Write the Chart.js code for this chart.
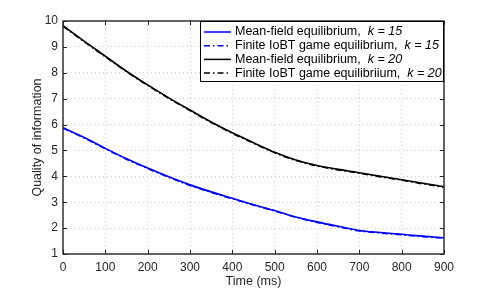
<!DOCTYPE html>
<html lang="en">
<head>
    <meta charset="UTF-8">
    <title>Quality of information vs time</title>
    <script src="https://cdnjs.cloudflare.com/ajax/libs/Chart.js/4.4.1/chart.umd.min.js"></script>
    <style>
        html, body { margin: 0; padding: 0; background: #ffffff; }
        #wrap { width: 491px; height: 289px; }
    </style>
</head>
<body>
<div id="wrap"><canvas id="qoiChart" width="491" height="289"></canvas></div>
<script>
    // data (time in ms)
    var timeMs = [0, 50, 100, 150, 200, 250, 300, 350, 400, 450, 500, 550, 600, 650, 700, 750, 800, 850, 900];
    var meanField15 = [5.88, 5.50, 5.08, 4.68, 4.32, 3.98, 3.67, 3.40, 3.15, 2.90, 2.68, 2.43, 2.24, 2.07, 1.91, 1.83, 1.76, 1.69, 1.63];
    var finiteGame15 = [5.86, 5.48, 5.06, 4.66, 4.30, 3.96, 3.65, 3.38, 3.13, 2.89, 2.66, 2.42, 2.22, 2.05, 1.89, 1.81, 1.74, 1.67, 1.61];
    var meanField20 = [9.82, 9.22, 8.64, 8.06, 7.53, 7.03, 6.56, 6.10, 5.68, 5.30, 4.93, 4.63, 4.42, 4.27, 4.14, 4.00, 3.87, 3.73, 3.60];
    var finiteGame20 = [9.80, 9.20, 8.62, 8.04, 7.51, 7.01, 6.54, 6.08, 5.66, 5.28, 4.91, 4.61, 4.40, 4.25, 4.12, 3.98, 3.85, 3.71, 3.58];
    var xTicks = [0, 100, 200, 300, 400, 500, 600, 700, 800, 900];
    var yTicks = [1, 2, 3, 4, 5, 6, 7, 8, 9, 10];
    var legendText = [
        ['Mean-field equilibrium,  ', 'k = 15'],
        ['Finite IoBT game equilibrium,  ', 'k = 15'],
        ['Mean-field equilibrium,  ', 'k = 20'],
        ['Finite IoBT game equilibriium,  ', 'k = 20']
    ];

    var FONT = '"Liberation Sans", Arial, sans-serif';
    var AXIS = '#262626';

    function pts(ys) {
        return timeMs.map(function(t, i) { return { x: t, y: ys[i] }; });
    }

    // MATLAB style box, inner ticks and legend
    var boxPlugin = {
        id: 'boxPlugin',
        afterDraw: function(chart) {
            var ctx = chart.ctx;
            var a = chart.chartArea;
            var xs = chart.scales.x, ys = chart.scales.y;
            ctx.save();
            ctx.strokeStyle = AXIS;
            ctx.lineWidth = 1;
            ctx.beginPath();
            xTicks.forEach(function(v) {
                var px = Math.round(xs.getPixelForValue(v)) + 0.5;
                ctx.moveTo(px, a.bottom); ctx.lineTo(px, a.bottom - 4);
                ctx.moveTo(px, a.top); ctx.lineTo(px, a.top + 4);
            });
            yTicks.forEach(function(v) {
                var py = Math.round(ys.getPixelForValue(v)) + 0.5;
                ctx.moveTo(a.left, py); ctx.lineTo(a.left + 4, py);
                ctx.moveTo(a.right, py); ctx.lineTo(a.right - 4, py);
            });
            ctx.stroke();
            ctx.lineWidth = 1.4;
            ctx.strokeRect(a.left, a.top, a.right - a.left, a.bottom - a.top);

            // legend
            var lx = 200, ly = 21, lw = 243, lh = 60;
            ctx.fillStyle = '#ffffff';
            ctx.fillRect(lx, ly, lw, lh);
            ctx.strokeStyle = '#000000';
            ctx.lineWidth = 1;
            ctx.strokeRect(lx + 0.5, ly + 0.5, lw, lh);
            chart.data.datasets.forEach(function(ds, i) {
                var cy = ly + 11 + i * 13.7;
                ctx.strokeStyle = ds.borderColor;
                ctx.lineWidth = 1.5;
                ctx.setLineDash(ds.borderDash || []);
                ctx.beginPath();
                ctx.moveTo(lx + 4, cy); ctx.lineTo(lx + 31, cy);
                ctx.stroke();
                ctx.setLineDash([]);
                ctx.fillStyle = '#000000';
                ctx.textBaseline = 'middle';
                ctx.font = '12.5px ' + FONT;
                ctx.fillText(legendText[i][0], lx + 35, cy);
                var w = ctx.measureText(legendText[i][0]).width;
                ctx.font = 'italic 12.5px ' + FONT;
                ctx.fillText(legendText[i][1], lx + 35 + w, cy);
            });
            ctx.restore();
        }
    };

    var ctx = document.getElementById('qoiChart').getContext('2d');
    new Chart(ctx, {
        type: 'line',
        data: {
            datasets: [
                { label: 'Mean-field equilibrium, k = 15', data: pts(meanField15), borderColor: '#0000ff', borderWidth: 1.6 },
                { label: 'Finite IoBT game equilibrium, k = 15', data: pts(finiteGame15), borderColor: '#0000ff', borderWidth: 1.6, borderDash: [6, 3, 1.5, 3] },
                { label: 'Mean-field equilibrium, k = 20', data: pts(meanField20), borderColor: '#000000', borderWidth: 1.6 },
                { label: 'Finite IoBT game equilibriium, k = 20', data: pts(finiteGame20), borderColor: '#000000', borderWidth: 1.6, borderDash: [6, 3, 1.5, 3] }
            ]
        },
        options: {
            responsive: false,
            animation: false,
            layout: { padding: { top: 21, right: 47, left: 30, bottom: 0 } },
            elements: {
                point: { radius: 0 },
                line: { cubicInterpolationMode: 'monotone', fill: false }
            },
            plugins: {
                legend: { display: false },
                tooltip: { enabled: false }
            },
            scales: {
                x: {
                    type: 'linear',
                    min: 0, max: 900,
                    afterBuildTicks: function(s) { s.ticks = xTicks.map(function(v) { return { value: v }; }); },
                    afterFit: function(s) { s.height = 35; },
                    grid: { color: '#cfcfcf', drawTicks: false },
                    border: { display: false, dash: [1, 3] },
                    ticks: { color: AXIS, font: { family: FONT, size: 12 }, padding: 6, maxRotation: 0 },
                    title: { display: true, text: 'Time (ms)', color: AXIS, font: { family: FONT, size: 12.5 }, padding: { top: 0, bottom: 0 } }
                },
                y: {
                    min: 1, max: 10,
                    afterBuildTicks: function(s) { s.ticks = yTicks.map(function(v) { return { value: v }; }); },
                    afterFit: function(s) { s.width = 33; },
                    grid: { color: '#cfcfcf', drawTicks: false },
                    border: { display: false, dash: [1, 3] },
                    ticks: { color: AXIS, font: { family: FONT, size: 12 }, padding: 5 },
                    title: { display: true, text: 'Quality of information', color: AXIS, font: { family: FONT, size: 12.5 }, padding: { top: 0, bottom: 0 } }
                }
            }
        },
        plugins: [boxPlugin]
    });
</script>
</body>
</html>
